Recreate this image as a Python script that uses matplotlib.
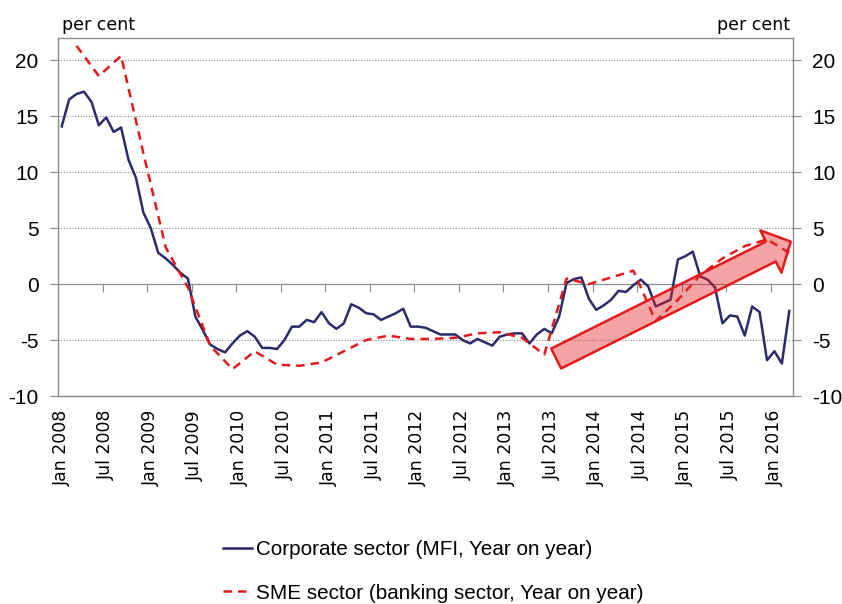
import matplotlib
matplotlib.use('Agg')
import matplotlib.pyplot as plt
import numpy as np
import pandas as pd

plt.rcParams['font.family'] = ['Liberation Sans', 'DejaVu Sans']
plt.rcParams['axes.unicode_minus'] = False

# monthly categories, Jan 2008 - Mar 2016
months = pd.date_range('2008-01-01', '2016-03-01', freq='MS')

# corporate sector (MFI), year on year, per cent - monthly
corporate = [14.1, 16.5, 17.0, 17.2, 16.3, 14.2, 14.9, 13.6, 14.0, 11.1,
             9.5, 6.4, 5.0, 2.8, 2.3, 1.7, 1.0, 0.5, -2.9, -4.1,
             -5.4, -5.8, -6.1, -5.3, -4.6, -4.2, -4.7, -5.7, -5.7, -5.8,
             -5.0, -3.8, -3.8, -3.2, -3.4, -2.5, -3.5, -4.0, -3.5, -1.8,
             -2.1, -2.6, -2.7, -3.2, -2.9, -2.6, -2.2, -3.8, -3.8, -3.9,
             -4.2, -4.5, -4.5, -4.5, -5.0, -5.3, -4.9, -5.2, -5.5, -4.7,
             -4.5, -4.4, -4.4, -5.3, -4.5, -4.0, -4.4, -2.9, 0.1, 0.45,
             0.6, -1.3, -2.3, -1.9, -1.4, -0.6, -0.7, -0.1, 0.4, -0.2,
             -2.0, -1.7, -1.4, 2.2, 2.5, 2.9, 0.7, 0.4, -0.3, -3.5,
             -2.8, -2.9, -4.6, -2.0, -2.5, -6.8, -6.0, -7.1, -2.4]

# SME sector (banking sector), year on year - quarter ends, Mar 2008 - Mar 2016
sme = [21.3, 18.6, 20.4, 11.7, 3.3, -0.3, -5.5, -7.6, -6.0, -7.2,
       -7.3, -7.0, -6.0, -5.0, -4.6, -4.9, -4.9, -4.8, -4.4, -4.3,
       -4.8, -6.3, 0.5, 0.0, 0.6, 1.2, -3.3, -1.4, 0.8, 2.3,
       3.4, 4.0, 2.8]

navy = '#2B2B6B'
red = '#E3191C'
grey = '#8C8C8C'

x = np.arange(len(months))
sme_x = x[2::3]

fig = plt.figure(figsize=(8.42, 6.04), dpi=100)
ax = fig.add_axes([58 / 842, 1 - 396 / 604, 735 / 842, 358 / 604])

ax.plot(x, corporate, color=navy, lw=1.8, zorder=3,
        label='Corporate sector (MFI, Year on year)')
ax.plot(sme_x, sme, color=red, lw=1.8, ls=(0, (3.4, 2.4)), zorder=3,
        label='SME sector (banking sector, Year on year)')

# trend arrow
ax.annotate('', xy=(98.2, 3.8), xytext=(66.6, -6.65),
            arrowprops=dict(arrowstyle='simple,tail_width=16,head_width=34,head_length=16',
                            mutation_scale=1, shrinkA=0, shrinkB=0,
                            fc=(0.91, 0.15, 0.16, 0.42), ec=red, lw=1.8),
            zorder=4)

ymin, ymax = -10, 22
ax.set_xlim(-0.5, len(months) - 0.5)
ax.set_ylim(ymin, ymax)
ax.set_yticks(range(-10, 21, 5))
ax.set_xticks(x[::6])
ax.set_xticklabels([m.strftime('%b %Y') for m in months[::6]],
                   rotation=90, family='DejaVu Sans', fontsize=12.5)
ax.tick_params(axis='x', length=0, pad=10)
ax.tick_params(axis='y', left=True, right=True, labelleft=True, labelright=True,
               length=6, color=grey, pad=8, labelsize=15)
ax.grid(axis='y', color=grey, ls=(0, (1, 1.5)), lw=0.8)
for s in ax.spines.values():
    s.set_color(grey)
    s.set_linewidth(1)

# category axis crossing at zero with tick marks between months
zero = ax.secondary_xaxis((0 - ymin) / (ymax - ymin))
zero.set_xticks(np.arange(-0.5, len(months), 6))
zero.set_xticklabels([])
zero.tick_params(length=6, color=grey)
zero.spines['bottom'].set_color(grey)

fig.text(62 / 842, 1 - 25 / 604, 'per cent', ha='left', va='center',
         family='DejaVu Sans', fontsize=12.5)
fig.text(790 / 842, 1 - 25 / 604, 'per cent', ha='right', va='center',
         family='DejaVu Sans', fontsize=12.5)

fig.legend(loc='upper center', bbox_to_anchor=(0.515, 0.137), frameon=False,
           fontsize=14.9, handlelength=1.4, handletextpad=0.2, labelspacing=1.2)

fig.savefig('out.png', dpi=100)
